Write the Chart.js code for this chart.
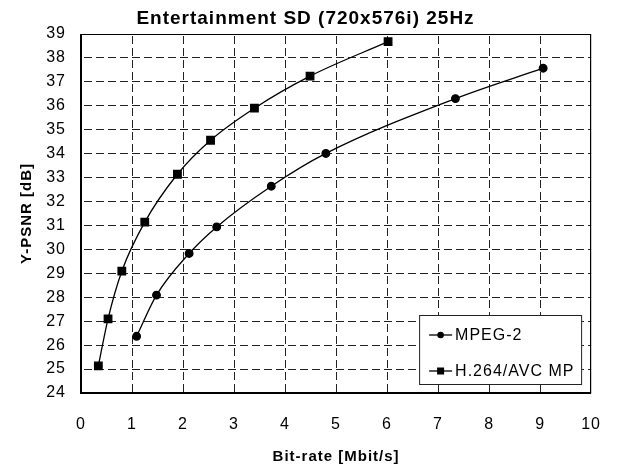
<!DOCTYPE html>
<html>
<head>
<meta charset="utf-8">
<script src="https://cdn.jsdelivr.net/npm/chart.js@4/dist/chart.umd.min.js"></script>
<style>
  html, body { margin: 0; padding: 0; background: #fff; }
  #wrap { width: 623px; height: 466px; }
</style>
</head>
<body>
<div id="wrap"><canvas id="c" width="623" height="466"></canvas></div>
<script>
// Rate-distortion points: bit-rate in Mbit/s, luma PSNR in dB
const mpeg2Rate = [1.09, 1.48, 2.12, 2.66, 3.73, 4.80, 7.34, 9.06];
const mpeg2Psnr = [26.37, 28.09, 29.83, 30.94, 32.64, 34.01, 36.30, 37.57];
const avcRate = [0.34, 0.53, 0.80, 1.25, 1.89, 2.54, 3.40, 4.49, 6.02];
const avcPsnr = [25.13, 27.10, 29.09, 31.14, 33.14, 34.56, 35.90, 37.24, 38.68];
const seriesNames = ['MPEG-2', 'H.264/AVC MP'];
const xTicks = [0, 1, 2, 3, 4, 5, 6, 7, 8, 9, 10];
const yTicks = [24, 25, 26, 27, 28, 29, 30, 31, 32, 33, 34, 35, 36, 37, 38, 39];

const FONT = 'Arial, "Liberation Sans", sans-serif';

const toPoints = (xs, ys) => xs.map((x, i) => ({ x, y: ys[i] }));

// Repeating 8px-on / 4px-off stroke patterns for the dashed grid
function dashPattern(vertical) {
  const c = document.createElement('canvas');
  c.width = vertical ? 1 : 12;
  c.height = vertical ? 12 : 1;
  const g = c.getContext('2d');
  g.fillStyle = '#222';
  if (vertical) g.fillRect(0, 0, 1, 8); else g.fillRect(0, 0, 8, 1);
  return document.getElementById('c').getContext('2d').createPattern(c, 'repeat');
}
const vDash = dashPattern(true);
const hDash = dashPattern(false);

const gridColor = (ticks, pattern) => (ctx) =>
  (ctx.tick && (ctx.tick.value === ticks[0] || ctx.tick.value === ticks[ticks.length - 1]))
    ? 'rgba(0,0,0,0)' : pattern;

// Slightly tracked-out lettering for every text on the canvas
const tracking = {
  id: 'tracking',
  beforeLayout(chart) { chart.ctx.letterSpacing = '1px'; },
  beforeDraw(chart) { chart.ctx.letterSpacing = '1px'; }
};

// Frame around the plotting area and the boxed legend
const frameAndLegend = {
  id: 'frameAndLegend',
  afterDatasetsDraw(chart) {
    const { ctx, chartArea: a } = chart;
    ctx.save();
    ctx.strokeStyle = '#000';
    ctx.setLineDash([]);
    ctx.lineWidth = 1.2;
    ctx.beginPath();
    ctx.moveTo(a.left, a.top + 0.5); ctx.lineTo(a.right, a.top + 0.5);
    ctx.moveTo(a.right - 0.5, a.top); ctx.lineTo(a.right - 0.5, a.bottom);
    ctx.stroke();

    ctx.lineWidth = 2;
    ctx.beginPath();
    ctx.moveTo(a.left, a.top); ctx.lineTo(a.left, a.bottom);
    ctx.lineTo(a.right, a.bottom);
    ctx.stroke();

    // legend box
    const bw = 163, bh = 70;
    const bx = a.right - 9 - bw, by = a.bottom - 8 - bh;
    ctx.fillStyle = '#fff';
    ctx.fillRect(bx, by, bw, bh);
    ctx.lineWidth = 1;
    ctx.strokeStyle = '#222';
    ctx.strokeRect(bx + 0.5, by + 0.5, bw - 1, bh - 1);

    const rows = [by + 20, by + 56];
    ctx.font = '16px ' + FONT;
    ctx.letterSpacing = '1px';
    ctx.textBaseline = 'middle';
    ctx.textAlign = 'left';
    rows.forEach((ry, i) => {
      const ds = chart.data.datasets[i];
      ctx.strokeStyle = '#000';
      ctx.lineWidth = 1.3;
      ctx.beginPath();
      ctx.moveTo(bx + 10, ry); ctx.lineTo(bx + 33, ry);
      ctx.stroke();
      ctx.fillStyle = '#000';
      if (ds.pointStyle === 'rect') {
        ctx.fillRect(bx + 18, ry - 3.5, 7, 7);
      } else {
        ctx.beginPath();
        ctx.arc(bx + 21.5, ry, 3.3, 0, Math.PI * 2);
        ctx.fill();
      }
      ctx.fillText(ds.label, bx + 36, ry + 1);
    });
    ctx.restore();
  }
};

new Chart(document.getElementById('c'), {
  type: 'scatter',
  data: {
    datasets: [
      {
        label: seriesNames[0],
        data: toPoints(mpeg2Rate, mpeg2Psnr),
        showLine: true,
        borderColor: '#000',
        backgroundColor: '#000',
        borderWidth: 1.3,
        pointStyle: 'circle',
        pointRadius: 3.8,
        pointHoverRadius: 3.8,
        cubicInterpolationMode: 'monotone'
      },
      {
        label: seriesNames[1],
        data: toPoints(avcRate, avcPsnr),
        showLine: true,
        borderColor: '#000',
        backgroundColor: '#000',
        borderWidth: 1.3,
        pointStyle: 'rect',
        pointRadius: 5.3,
        pointHoverRadius: 5.3,
        cubicInterpolationMode: 'monotone'
      }
    ]
  },
  options: {
    responsive: false,
    animation: false,
    events: [],
    layout: { padding: { left: 0, right: 12, top: 0, bottom: 0 } },
    plugins: {
      legend: { display: false },
      tooltip: { enabled: false },
      title: {
        display: true,
        text: 'Entertainment SD (720x576i) 25Hz',
        color: '#000',
        font: { family: FONT, size: 19, weight: 'bold', lineHeight: 1.2 },
        padding: { top: 7, bottom: 4.2 }
      }
    },
    scales: {
      x: {
        type: 'linear',
        min: xTicks[0],
        max: xTicks[xTicks.length - 1],
        afterBuildTicks: s => { s.ticks = xTicks.map(v => ({ value: v })); },
        afterFit: s => { s.height = 73; },
        border: { display: false },
        grid: { color: gridColor(xTicks, vDash), lineWidth: 1, drawTicks: false },
        ticks: { color: '#000', font: { family: FONT, size: 16, lineHeight: 1.2 }, padding: 22, maxRotation: 0 },
        title: {
          display: true,
          text: 'Bit-rate [Mbit/s]',
          color: '#000',
          font: { family: FONT, size: 15, weight: 'bold', lineHeight: 1.2 },
          padding: { top: 6, bottom: 0 }
        }
      },
      y: {
        type: 'linear',
        min: yTicks[0],
        max: yTicks[yTicks.length - 1],
        afterBuildTicks: s => { s.ticks = yTicks.map(v => ({ value: v })); },
        afterFit: s => { s.width = 81; },
        border: { display: false },
        grid: { color: gridColor(yTicks, hDash), lineWidth: 1, drawTicks: false },
        ticks: { color: '#000', font: { family: FONT, size: 16 }, padding: 15 },
        title: {
          display: true,
          text: 'Y-PSNR [dB]',
          color: '#000',
          font: { family: FONT, size: 15, weight: 'bold', lineHeight: 1.2 },
          padding: { top: 18, bottom: 0 }
        }
      }
    }
  },
  plugins: [tracking, frameAndLegend]
});
</script>
</body>
</html>
